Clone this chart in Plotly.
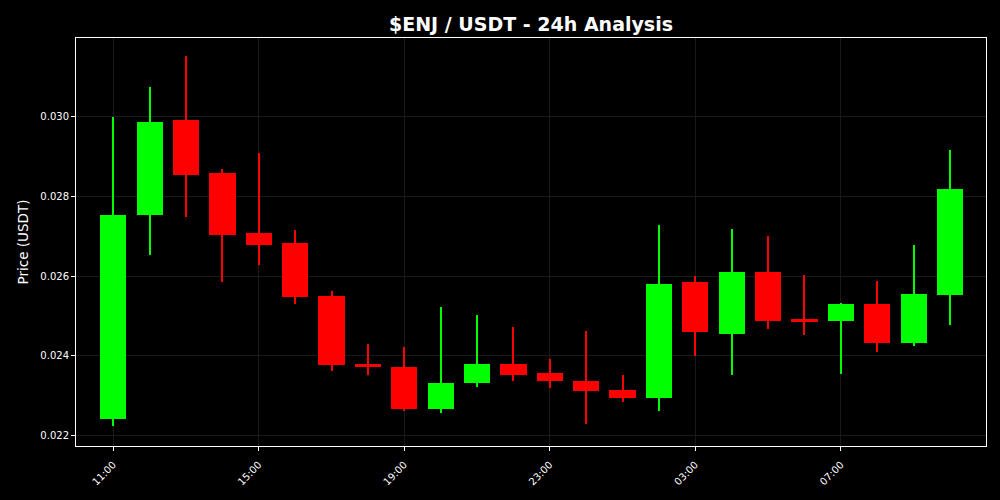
import plotly.graph_objects as go
import pandas as pd

# ── hourly OHLC for $ENJ / USDT ──────────────────────────────────────────────
times = [
    "2024-01-01 11:00", "2024-01-01 12:00", "2024-01-01 13:00", "2024-01-01 14:00",
    "2024-01-01 15:00", "2024-01-01 16:00", "2024-01-01 17:00", "2024-01-01 18:00",
    "2024-01-01 19:00", "2024-01-01 20:00", "2024-01-01 21:00", "2024-01-01 22:00",
    "2024-01-01 23:00", "2024-01-02 00:00", "2024-01-02 01:00", "2024-01-02 02:00",
    "2024-01-02 03:00", "2024-01-02 04:00", "2024-01-02 05:00", "2024-01-02 06:00",
    "2024-01-02 07:00", "2024-01-02 08:00", "2024-01-02 09:00", "2024-01-02 10:00",
]
opens = [
    0.02243, 0.02753, 0.02993, 0.02858, 0.02708, 0.02683, 0.02550, 0.02379,
    0.02373, 0.02268, 0.02333, 0.02380, 0.02358, 0.02338, 0.02315, 0.02295,
    0.02585, 0.02456, 0.02610, 0.02492, 0.02488, 0.02530, 0.02433, 0.02553,
]
highs = [
    0.03000, 0.03075, 0.03153, 0.02869, 0.02909, 0.02717, 0.02563, 0.02430,
    0.02422, 0.02522, 0.02503, 0.02472, 0.02393, 0.02463, 0.02353, 0.02729,
    0.02600, 0.02719, 0.02702, 0.02604, 0.02532, 0.02587, 0.02678, 0.02918,
]
lows = [
    0.02223, 0.02653, 0.02748, 0.02586, 0.02628, 0.02530, 0.02361, 0.02351,
    0.02261, 0.02256, 0.02323, 0.02338, 0.02320, 0.02230, 0.02285, 0.02261,
    0.02400, 0.02353, 0.02468, 0.02453, 0.02355, 0.02411, 0.02426, 0.02478,
]
closes = [
    0.02755, 0.02987, 0.02855, 0.02703, 0.02678, 0.02548, 0.02378, 0.02373,
    0.02266, 0.02333, 0.02380, 0.02353, 0.02336, 0.02313, 0.02295, 0.02580,
    0.02461, 0.02610, 0.02488, 0.02485, 0.02530, 0.02433, 0.02555, 0.02820,
]

UP, DOWN = "#00ff00", "#ff0000"
HOUR_MS = 3600 * 1000

df = pd.DataFrame({"t": pd.to_datetime(times), "o": opens, "h": highs, "l": lows, "c": closes})
colors = [UP if c >= o else DOWN for o, c in zip(df.o, df.c)]

fig = go.Figure()

# wicks (thin bars low → high)
fig.add_trace(go.Bar(
    x=df.t, y=df.h - df.l, base=df.l,
    width=0.055 * HOUR_MS,
    marker=dict(color=colors, line_width=0),
    hoverinfo="skip", showlegend=False,
))

# bodies (open ↔ close)
fig.add_trace(go.Bar(
    x=df.t, y=(df.c - df.o).abs(), base=df[["o", "c"]].min(axis=1),
    width=0.72 * HOUR_MS,
    marker=dict(color=colors, line_width=0),
    customdata=df[["o", "h", "l", "c"]].values,
    hovertemplate=("%{x|%H:%M}<br>O %{customdata[0]:.5f}<br>H %{customdata[1]:.5f}"
                   "<br>L %{customdata[2]:.5f}<br>C %{customdata[3]:.5f}<extra></extra>"),
    showlegend=False,
))

x_range = [df.t.iloc[0] - pd.Timedelta(hours=1.025), df.t.iloc[-1] + pd.Timedelta(hours=0.99)]

fig.update_layout(
    width=1000, height=500,
    paper_bgcolor="black", plot_bgcolor="black",
    font=dict(family="DejaVu Sans", color="white", size=10),
    barmode="overlay", bargap=0,
    title=dict(text="<b>$ENJ / USDT - 24h Analysis</b>", x=0.531, xanchor="center",
               y=0.952, yanchor="middle", font=dict(size=19, color="white")),
    margin=dict(l=76, r=14, t=38, b=54),
    xaxis=dict(
        type="date",
        range=x_range,
        tick0="2024-01-01 11:00", dtick=4 * HOUR_MS, tickformat="%H:%M",
        tickangle=-45, ticks="outside", ticklen=4, tickcolor="white",
        ticklabelstandoff=4,
        showgrid=True, gridcolor="#1a1a1a", gridwidth=1,
        showline=True, linecolor="white", linewidth=1, mirror=True,
        zeroline=False, tickfont=dict(size=10),
    ),
    yaxis=dict(
        range=[0.02174, 0.03198],
        tick0=0.022, dtick=0.002, tickformat=".3f",
        ticks="outside", ticklen=4, tickcolor="white",
        showgrid=True, gridcolor="#1a1a1a", gridwidth=1,
        showline=True, linecolor="white", linewidth=1, mirror=True,
        zeroline=False, tickfont=dict(size=10),
        title=dict(text="Price (USDT)", font=dict(size=13.5), standoff=8),
    ),
)

# strip the page's default body margin so the figure sits flush in the window
fig.write_html(
    "out.html",
    config={"displayModeBar": False},
    post_script="document.body.style.margin='0';document.body.style.background='black';",
)
